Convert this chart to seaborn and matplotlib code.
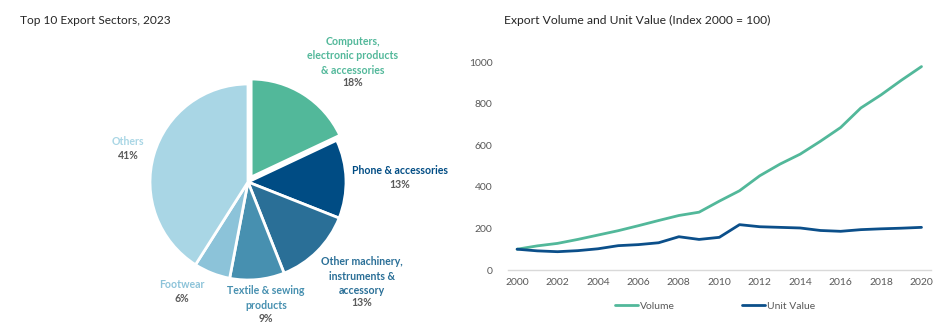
import matplotlib
matplotlib.use("Agg")
import matplotlib.pyplot as plt
import seaborn as sns
import pandas as pd
import numpy as np

# ---------------- data ----------------
sectors = ["Computers,\nelectronic products\n& accessories", "Phone & accessories",
           "Other machinery,\ninstruments &\naccessory", "Textile & sewing\nproducts",
           "Footwear", "Others"]
shares = [18, 13, 13, 9, 6, 41]

years = list(range(2000, 2021))
volume = [100, 116, 128, 147, 168, 189, 213, 238, 262, 278, 331, 381, 453, 509,
          557, 619, 685, 779, 842, 912, 978]
unit_value = [100, 92, 88, 93, 102, 117, 122, 131, 160, 147, 157, 218, 208, 205,
              202, 190, 186, 194, 198, 201, 205]
xticks = list(range(2000, 2021, 2))
yticks = [0, 200, 400, 600, 800, 1000]

# ---------------- style ----------------
sns.set_theme(style="white")
plt.rcParams['font.family'] = ['Lato', 'DejaVu Sans']

pie_colors = ["#52B89A", "#004C84", "#2A6F97", "#4790B0", "#8CC3D9", "#A9D6E5"]
line_colors = {"Volume": "#52B89A", "Unit Value": "#0B4F8A"}
gray = "#595959"

W, H = 939, 324
fig = plt.figure(figsize=(W / 100, H / 100), dpi=100)

# ---------------- pie ----------------
cx, cy, R = 248, 182, 98
axp = fig.add_axes([0, 0, 470 / W, 1])
wedges, _ = axp.pie(shares, colors=pie_colors, startangle=90, counterclock=False,
                    explode=[0.06, 0, 0, 0, 0, 0],
                    wedgeprops=dict(edgecolor="white", linewidth=2))
axp.set_aspect('auto')
axp.set_xlim((0 - cx) / R, (470 - cx) / R)
axp.set_ylim((cy - H) / R, cy / R)
axp.axis('off')

# label layout (pixel centres of name block and percentage line)
name_px = [(353, 56), (400, 171), (362, 276), (266, 298), (182, 284), (128, 142)]
pct_px = [(353, 83), (400, 185), (362, 303), (266, 318), (182, 298), (128, 156)]
fs_lab = 7.6
for name, sh, col, (nx, ny), (px, py) in zip(sectors, shares, pie_colors, name_px, pct_px):
    axp.text((nx - cx) / R, (cy - ny) / R, name, ha='center', va='center', color=col,
             fontsize=fs_lab, fontweight='bold', linespacing=1.36)
    axp.text((px - cx) / R, (cy - py) / R, f"{sh}%", ha='center', va='center', color=gray,
             fontsize=fs_lab, fontweight='bold')

fig.text(20 / W, 1 - 21 / H, "Top 10 Export Sectors, 2023", ha='left', va='center',
         fontsize=8.6, color="#262626")

# ---------------- line chart ----------------
df = pd.DataFrame({
    "Year": years * 2,
    "Index": volume + unit_value,
    "Series": ["Volume"] * len(years) + ["Unit Value"] * len(years),
})
axl = fig.add_axes([508 / W, 1 - 270 / H, (931 - 508) / W, 208 / H])
sns.lineplot(data=df, x="Year", y="Index", hue="Series", palette=line_colors,
             linewidth=2.0, ax=axl, legend=False, clip_on=False)
axl.set_xlim(1999.55, 2020.47)
axl.set_ylim(0, 1000)
axl.set_xticks(xticks)
axl.set_yticks(yticks)
axl.set_xlabel("")
axl.set_ylabel("")
for s in ["top", "right", "left"]:
    axl.spines[s].set_visible(False)
axl.spines["bottom"].set_color("#D9D9D9")
axl.spines["bottom"].set_linewidth(1)
axl.tick_params(axis='both', length=0, labelsize=7.5, labelcolor=gray)
axl.tick_params(axis='x', pad=6)
axl.tick_params(axis='y', pad=11)

handles = [plt.Line2D([], [], color=line_colors[k], linewidth=2.0) for k in ["Volume", "Unit Value"]]
leg = axl.legend(handles, ["Volume", "Unit Value"], loc='center', ncol=2,
                 bbox_to_anchor=(0.49, -0.175), frameon=False, fontsize=7.5,
                 handlelength=2.2, handletextpad=0.2, columnspacing=6.5)
for t in leg.get_texts():
    t.set_color(gray)

fig.text(504 / W, 1 - 20 / H, "Export Volume and Unit Value (Index 2000 = 100)",
         ha='left', va='center', fontsize=8.7, color="#262626")

fig.savefig("out.png", dpi=100)
